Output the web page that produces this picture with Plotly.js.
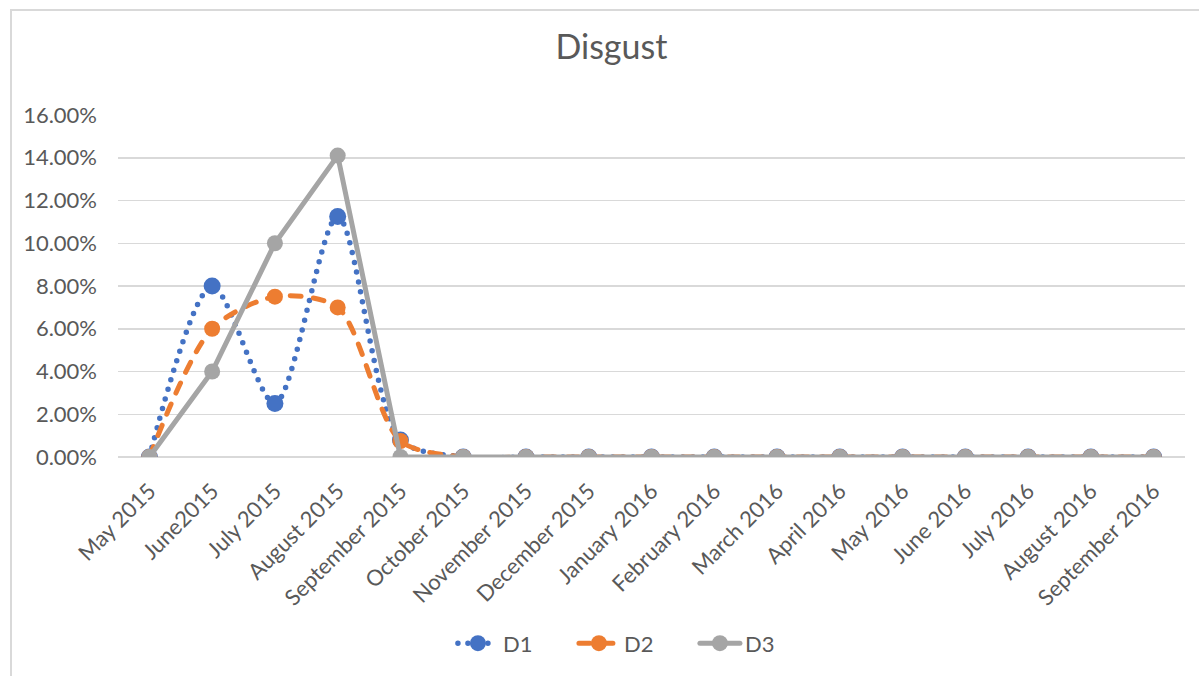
<!DOCTYPE html>
<html>
<head>
<meta charset="utf-8">
<script src="https://cdn.plot.ly/plotly-3.0.1.min.js"></script>
<style>
  html, body { margin: 0; padding: 0; background: #fff; }
  #wrap { position: relative; width: 1199px; height: 676px; overflow: hidden; }
  #chart { position: absolute; left: 0; top: 0; width: 1199px; height: 676px; }
  #frame { position: absolute; left: 10px; top: 9px; width: 1300px; height: 800px;
           border-left: 2px solid #D9D9D9; border-top: 2px solid #D9D9D9; pointer-events: none; }
  #chart .js-line { stroke-linecap: round !important; }
  #chart .legendlines path { stroke-linecap: round !important; }
</style>
</head>
<body>
<div id="wrap">
  <div id="chart"></div>
  <div id="frame"></div>
</div>
<script>
// Monthly share of "disgust" (percent) for three groups
const months = [
  "May 2015", "June2015", "July 2015", "August 2015", "September 2015",
  "October 2015", "November 2015", "December 2015", "January 2016",
  "February 2016", "March 2016", "April 2016", "May 2016", "June 2016",
  "July 2016", "August 2016", "September 2016"
];
const d1 = [0, 8.0, 2.5, 11.25, 0.8, 0, 0, 0, 0, 0, 0, 0, 0, 0, 0, 0, 0];
const d2 = [0, 6.0, 7.5, 7.0, 0.75, 0, 0, 0, 0, 0, 0, 0, 0, 0, 0, 0, 0];
const d3 = [0, 4.0, 10.0, 14.1, 0, 0, 0, 0, 0, 0, 0, 0, 0, 0, 0, 0, 0];
const yTicks = [0, 2, 4, 6, 8, 10, 12, 14, 16];

const FONT = "Lato, 'Open Sans', sans-serif";
const TEXT = "#595959";

const traces = [
  {
    name: "D1", x: months, y: d1, type: "scatter", mode: "lines+markers",
    line: { color: "#4472C4", width: 5.5, dash: "0px,10px", shape: "spline", smoothing: 0.8 },
    marker: { color: "#4472C4", size: 17 }
  },
  {
    name: "D2", x: months, y: d2, type: "scatter", mode: "lines+markers",
    line: { color: "#ED7D31", width: 5, dash: "11px,12px", shape: "spline", smoothing: 0.8 },
    marker: { color: "#ED7D31", size: 16 }
  },
  {
    name: "D3", x: months, y: d3, type: "scatter", mode: "lines+markers",
    line: { color: "#A5A5A5", width: 5 },
    marker: { color: "#A5A5A5", size: 16 }
  }
];

const layout = {
  width: 1199, height: 676,
  paper_bgcolor: "#fff", plot_bgcolor: "#fff",
  margin: { l: 118, r: 14, t: 115, b: 217 },
  font: { family: FONT, color: TEXT, size: 22 },
  title: { text: "Disgust", x: 0.51, xanchor: "center", y: 0.93, yanchor: "middle",
           font: { family: FONT, size: 34, color: TEXT } },
  xaxis: {
    type: "category", range: [-0.5, months.length - 0.5],
    tickangle: -45, showgrid: false, zeroline: false,
    showline: false, ticks: "", ticklabelstandoff: 16,
    tickfont: { family: FONT, size: 22, color: TEXT }, fixedrange: true
  },
  yaxis: {
    range: [0, 16], tickvals: yTicks, ticktext: yTicks.map(v => v.toFixed(2) + "%"),
    showgrid: true, gridcolor: "#D9D9D9", gridwidth: 1.5,
    zeroline: true, zerolinecolor: "#D9D9D9", zerolinewidth: 1.5,
    showline: false, ticks: "", ticklabelstandoff: 20,
    tickfont: { family: FONT, size: 22, color: TEXT }, fixedrange: true
  },
  showlegend: true,
  legend: {
    orientation: "h", x: 0.484, xanchor: "center", y: -0.545, yanchor: "middle",
    font: { family: FONT, size: 22, color: TEXT }, itemwidth: 40,
    entrywidth: 66, traceorder: "normal"
  },
  hovermode: false
};

Plotly.newPlot("chart", traces, layout, { displayModeBar: false, staticPlot: true });
</script>
</body>
</html>
